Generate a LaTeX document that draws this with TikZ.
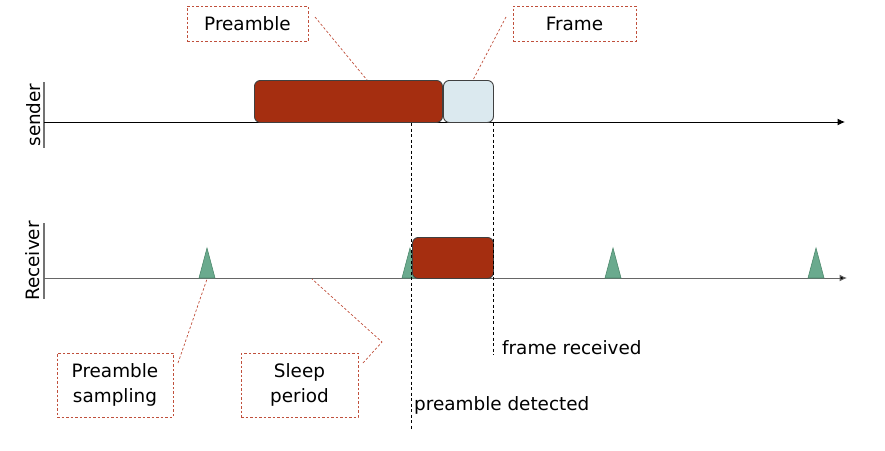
\documentclass[tikz,border=0pt]{standalone}
\usepackage{fontspec}
\setmainfont{DejaVu Sans}
\usetikzlibrary{arrows.meta}
\definecolor{brick}{RGB}{165,46,16}
\definecolor{frameblue}{RGB}{219,233,239}
\definecolor{tri}{RGB}{106,170,142}
\definecolor{trie}{RGB}{78,138,110}
\definecolor{callout}{RGB}{192,80,60}
\tikzset{
  txt/.style={font=\fontsize{18.4}{25}\selectfont, inner sep=0pt},
  lbl/.style={txt, draw=callout, dash pattern=on 2.5pt off 2pt, line width=0.7pt, align=center},
  callline/.style={draw=callout, dash pattern=on 2.5pt off 2pt, line width=0.7pt},
  pkt/.style={draw=black!75, line width=0.9pt, rounded corners=6pt},
  axisline/.style={line width=1pt, -{Latex[length=7.5pt,width=7pt,fill=black]}},
  stick/.style={draw=black!55, line width=1.2pt},
  vmarker/.style={draw=black, dash pattern=on 3pt off 2.5pt, line width=0.7pt},
  peak/.style={fill=tri, draw=trie, line width=0.6pt},
}
\begin{document}
\begin{tikzpicture}[x=1pt,y=-1pt]
\useasboundingbox (0,0) rectangle (885,450);

% axes
\coordinate (s0) at (44,122); \coordinate (s1) at (845,122);
\coordinate (r0) at (44,278); \coordinate (r1) at (847,278);
\draw[stick] (44,82) -- (44,148);
\draw[stick] (44,223) -- (44,299);
\draw[axisline, draw=black] (s0) -- (s1);
\draw[axisline, draw=black!60] (r0) -- (r1);
\node[txt, rotate=90] (sender) at (34,115) {sender};
\node[txt, rotate=90] (receiver) at (33,261) {Receiver};

% sampling peaks
\foreach \cx/\nm in {207/pA,410/pB,613/pC,816/pD}{
  \coordinate (\nm) at (\cx,248);
  \draw[peak] (\cx-8,278) -- (\nm) -- (\cx+8,278) -- cycle;
}

% sender packets
\node[pkt, fill=brick, minimum width=188pt, minimum height=42pt, anchor=north west] (pre) at (254,80) {};
\node[pkt, fill=frameblue, minimum width=50pt, minimum height=42pt, anchor=north west] (frm) at (443,80) {};
% receiver packet
\node[pkt, fill=brick, minimum width=81pt, minimum height=41pt, anchor=north west] (rx) at (412,237) {};

% markers
\coordinate (m1a) at (411,123); \coordinate (m1b) at (411,430);
\coordinate (m2a) at (493,123); \coordinate (m2b) at (493,355);
\draw[vmarker] (m1a) -- (m1b);
\draw[vmarker] (m2a) -- (m2b);
\node[txt, anchor=base west] (fr) at (502,354) {frame received};
\node[txt, anchor=base west] (pd) at (414,410) {preamble detected};

% labels
\node[lbl, minimum width=121pt, minimum height=35pt] (lpre) at (247.5,23.5) {Preamble};
\node[lbl, minimum width=123pt, minimum height=35pt] (lfrm) at (574.5,23.5) {Frame};
\node[lbl, minimum width=116pt, minimum height=64pt] (lsam) at (115,385) {Preamble\\sampling};
\node[lbl, minimum width=117pt, minimum height=64pt] (lslp) at (299.5,385) {Sleep\\period};

% callouts
\coordinate (c1) at (315,17); \coordinate (c1e) at (367,80);
\coordinate (c2) at (506,17); \coordinate (c2e) at (473,80);
\coordinate (c3) at (178,363); \coordinate (c3e) at (207,279);
\coordinate (c4) at (363,363); \coordinate (c4m) at (382,342); \coordinate (c4e) at (312,279);
\draw[callline] (c1) -- (c1e);
\draw[callline] (c2) -- (c2e);
\draw[callline] (c3) -- (c3e);
\draw[callline] (c4) -- (c4m) -- (c4e);
\end{tikzpicture}
\end{document}
